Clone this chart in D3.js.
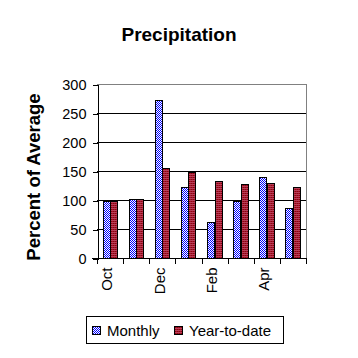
<!DOCTYPE html>
<html><head><meta charset="utf-8">
<script src="https://cdn.jsdelivr.net/npm/d3@7"></script>
<style>body{margin:0;background:#fff}svg{display:block;font-family:"Liberation Sans",Arial,sans-serif}</style>
</head><body>
<script>
const months = ["Oct","Nov","Dec","Jan","Feb","Mar","Apr","May"];
const monthly = [98,102,272,122,62,98,140,86];
const ytd = [98,102,155,149,133,128,130,122];
const yTicks = [0,50,100,150,200,250,300];
const tickLabelMonths = ["Oct","Dec","Feb","Apr"];
const seriesNames = ["Monthly","Year-to-date"];

(function(){
const W=358,H=358;
const svg=d3.select("body").append("svg").attr("width",W).attr("height",H).attr("shape-rendering","crispEdges");
const defs=svg.append("defs");
const pb=defs.append("pattern").attr("id","pBlue").attr("patternUnits","userSpaceOnUse").attr("width",2).attr("height",2);
pb.append("rect").attr("width",2).attr("height",2).attr("fill","#ffffff");
pb.append("rect").attr("width",1).attr("height",1).attr("fill","#0000ff");
pb.append("rect").attr("x",1).attr("y",1).attr("width",1).attr("height",1).attr("fill","#0000ff");
const pr=defs.append("pattern").attr("id","pRed").attr("patternUnits","userSpaceOnUse").attr("width",2).attr("height",2);
pr.append("rect").attr("width",2).attr("height",2).attr("fill","#b8405a");
pr.append("rect").attr("x",1).attr("y",1).attr("width",1).attr("height",1).attr("fill","#900010");
pr.append("rect").attr("x",0).attr("y",1).attr("width",1).attr("height",1).attr("fill","#a01828");

const pL=97,pR=306,pT=84,pB=258;
const x=d3.scaleBand().domain(months).range([pL,pR]).paddingInner(0.4286).paddingOuter(0.2143);
const x1=d3.scaleBand().domain(seriesNames).range([0,x.bandwidth()]);
const y=d3.scaleLinear().domain([0,300]).range([pB,pT]);
const R=v=>Math.round(v)+0.5;

svg.append("g").selectAll("line").data(yTicks.filter(d=>d>0)).join("line")
 .attr("x1",pL).attr("x2",pR).attr("y1",d=>R(y(d))).attr("y2",d=>R(y(d)))
 .attr("stroke",d=>d===300?"#808080":"#000").attr("stroke-width",1);
svg.append("line").attr("x1",R(pR)).attr("x2",R(pR)).attr("y1",pT).attr("y2",pB).attr("stroke","#808080");

const fills={"Monthly":"url(#pBlue)","Year-to-date":"url(#pRed)"};
const data=months.map((m,i)=>({m,vals:[{s:"Monthly",v:monthly[i]},{s:"Year-to-date",v:ytd[i]}]}));
svg.append("g").selectAll("g").data(data).join("g")
 .selectAll("rect").data(d=>d.vals.map(v=>({...v,m:d.m}))).join("rect")
 .attr("x",d=>R(x(d.m)+x1(d.s))).attr("width",d=>Math.round(x1.bandwidth()))
 .attr("y",d=>R(y(d.v))).attr("height",d=>Math.round(pB-y(d.v)))
 .attr("fill",d=>fills[d.s]).attr("stroke","#000").attr("stroke-width",1);

const ya=svg.append("g").attr("transform",`translate(${pL+0.5},0.5)`)
 .call(d3.axisLeft(y).tickValues(yTicks).tickSize(5).tickPadding(6));
ya.select(".domain").attr("stroke","#000");
ya.selectAll("line").attr("stroke","#000");
ya.selectAll("text").attr("font-size",14.5).attr("fill","#000").style("font-family","Liberation Sans, Arial, sans-serif");

const xa=svg.append("g").attr("transform",`translate(0,${pB+0.5})`);
xa.append("line").attr("x1",pL-5).attr("x2",pR+1).attr("stroke","#000");
const bounds=d3.range(months.length+1).map(i=>pL+i*(pR-pL)/months.length);
xa.selectAll("line.t").data(bounds).join("line").attr("class","t")
 .attr("x1",d=>R(d)).attr("x2",d=>R(d)).attr("y1",0).attr("y2",5).attr("stroke","#000");
xa.selectAll("text").data(tickLabelMonths).join("text")
 .attr("transform",d=>`translate(${x(d)+x.bandwidth()/2-3},9) rotate(-90)`)
 .attr("text-anchor","end").attr("dy","0.35em").attr("font-size",15).text(d=>d);

svg.append("text").attr("x",179).attr("y",41).attr("text-anchor","middle")
 .attr("font-size",19).attr("font-weight","bold").text("Precipitation");
svg.append("text").attr("transform",`translate(40,177) rotate(-90)`).attr("text-anchor","middle")
 .attr("font-size",18.5).attr("font-weight","bold").text("Percent of Average");

const lg=svg.append("g");
lg.append("rect").attr("x",86.5).attr("y",316.5).attr("width",197).attr("height",27).attr("fill","#fff").attr("stroke","#000");
const items=[{s:"Monthly",sx:92,tx:107},{s:"Year-to-date",sx:174,tx:189}];
items.forEach(it=>{
 lg.append("rect").attr("x",it.sx+0.5).attr("y",326.5).attr("width",8).attr("height",8).attr("fill",fills[it.s]).attr("stroke","#000");
 lg.append("text").attr("x",it.tx).attr("y",336).attr("font-size",15).text(it.s);
});
})();
</script>
</body></html>
